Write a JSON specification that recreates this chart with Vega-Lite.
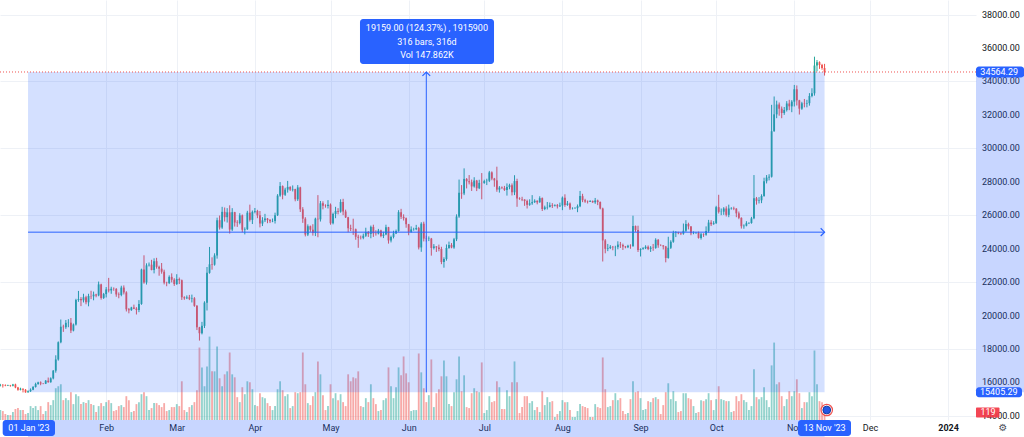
{
  "$schema": "https://vega.github.io/schema/vega-lite/v6.json",
  "description": "BTC daily candles with a TradingView style price range measurement",
  "width": 976,
  "height": 420,
  "autosize": {"type": "none"},
  "padding": {"left": 0, "top": 0, "right": 48, "bottom": 17},
  "background": "white",
  "config": {
    "view": {"stroke": null},
    "axis": {"domain": false, "ticks": false, "gridColor": "#eef1f6", "gridWidth": 1, "labelColor": "#131722", "labelFont": "Roboto", "labelFontSize": 9},
    "text": {"font": "Roboto"}
  },
  "datasets": {
    "candles": [
      {"d":"2022-12-21","o":15820,"h":15910,"l":15760,"c":15850,"v":130},
      {"d":"2022-12-22","o":15850,"h":15900,"l":15690,"c":15830,"v":117},
      {"d":"2022-12-23","o":15830,"h":15880,"l":15770,"c":15800,"v":78},
      {"d":"2022-12-24","o":15800,"h":15860,"l":15780,"c":15830,"v":65},
      {"d":"2022-12-25","o":15830,"h":15850,"l":15740,"c":15800,"v":65},
      {"d":"2022-12-26","o":15800,"h":15910,"l":15760,"c":15870,"v":104},
      {"d":"2022-12-27","o":15870,"h":15920,"l":15650,"c":15700,"v":143},
      {"d":"2022-12-28","o":15700,"h":15730,"l":15500,"c":15560,"v":156},
      {"d":"2022-12-29","o":15560,"h":15680,"l":15520,"c":15620,"v":130},
      {"d":"2022-12-30","o":15620,"h":15640,"l":15400,"c":15560,"v":130},
      {"d":"2022-12-31","o":15560,"h":15600,"l":15380,"c":15405.29,"v":78},
      {"d":"2023-01-01","o":15405.29,"h":15520,"l":15380,"c":15470,"v":91},
      {"d":"2023-01-02","o":15470,"h":15640,"l":15430,"c":15560,"v":182},
      {"d":"2023-01-03","o":15560,"h":15780,"l":15530,"c":15720,"v":156},
      {"d":"2023-01-04","o":15720,"h":15980,"l":15690,"c":15900,"v":182},
      {"d":"2023-01-05","o":15900,"h":16040,"l":15860,"c":16000,"v":130},
      {"d":"2023-01-06","o":16000,"h":16060,"l":15830,"c":15930,"v":182},
      {"d":"2023-01-07","o":15930,"h":15960,"l":15890,"c":15920,"v":78},
      {"d":"2023-01-08","o":15920,"h":16140,"l":15900,"c":16100,"v":117},
      {"d":"2023-01-09","o":16100,"h":16290,"l":15980,"c":16010,"v":234},
      {"d":"2023-01-10","o":16010,"h":16300,"l":15980,"c":16240,"v":195},
      {"d":"2023-01-11","o":16240,"h":16740,"l":16180,"c":16700,"v":260},
      {"d":"2023-01-12","o":16700,"h":17620,"l":16580,"c":17370,"v":416},
      {"d":"2023-01-13","o":17370,"h":18450,"l":17300,"c":18400,"v":442},
      {"d":"2023-01-14","o":18400,"h":19760,"l":18340,"c":19330,"v":468},
      {"d":"2023-01-15","o":19330,"h":19450,"l":19020,"c":19300,"v":260},
      {"d":"2023-01-16","o":19300,"h":19730,"l":19200,"c":19560,"v":286},
      {"d":"2023-01-17","o":19560,"h":19780,"l":19300,"c":19570,"v":260},
      {"d":"2023-01-18","o":19570,"h":19850,"l":18950,"c":19100,"v":364},
      {"d":"2023-01-19","o":19100,"h":19520,"l":19050,"c":19460,"v":208},
      {"d":"2023-01-20","o":19460,"h":21000,"l":19400,"c":20930,"v":338},
      {"d":"2023-01-21","o":20930,"h":21470,"l":20820,"c":20990,"v":312},
      {"d":"2023-01-22","o":20990,"h":21100,"l":20560,"c":20910,"v":208},
      {"d":"2023-01-23","o":20910,"h":21300,"l":20780,"c":21090,"v":234},
      {"d":"2023-01-24","o":21090,"h":21180,"l":20670,"c":20790,"v":221},
      {"d":"2023-01-25","o":20790,"h":21300,"l":20550,"c":21170,"v":260},
      {"d":"2023-01-26","o":21170,"h":21480,"l":20980,"c":21150,"v":208},
      {"d":"2023-01-27","o":21150,"h":21430,"l":20910,"c":21250,"v":195},
      {"d":"2023-01-28","o":21250,"h":21300,"l":21090,"c":21200,"v":104},
      {"d":"2023-01-29","o":21200,"h":22030,"l":21150,"c":21860,"v":182},
      {"d":"2023-01-30","o":21860,"h":21900,"l":20950,"c":21050,"v":221},
      {"d":"2023-01-31","o":21050,"h":21350,"l":20990,"c":21280,"v":182},
      {"d":"2023-02-01","o":21280,"h":21700,"l":21080,"c":21560,"v":234},
      {"d":"2023-02-02","o":21560,"h":22250,"l":21380,"c":21500,"v":260},
      {"d":"2023-02-03","o":21500,"h":21720,"l":21300,"c":21600,"v":221},
      {"d":"2023-02-04","o":21600,"h":21680,"l":21480,"c":21590,"v":117},
      {"d":"2023-02-05","o":21590,"h":21640,"l":21120,"c":21260,"v":130},
      {"d":"2023-02-06","o":21260,"h":21380,"l":21030,"c":21230,"v":182},
      {"d":"2023-02-07","o":21230,"h":21780,"l":21150,"c":21670,"v":195},
      {"d":"2023-02-08","o":21670,"h":21800,"l":21260,"c":21380,"v":169},
      {"d":"2023-02-09","o":21380,"h":21450,"l":20240,"c":20370,"v":312},
      {"d":"2023-02-10","o":20370,"h":20450,"l":20130,"c":20320,"v":260},
      {"d":"2023-02-11","o":20320,"h":20520,"l":20280,"c":20480,"v":104},
      {"d":"2023-02-12","o":20480,"h":20650,"l":20380,"c":20410,"v":117},
      {"d":"2023-02-13","o":20410,"h":20500,"l":20060,"c":20330,"v":208},
      {"d":"2023-02-14","o":20330,"h":20920,"l":20200,"c":20690,"v":234},
      {"d":"2023-02-15","o":20690,"h":22800,"l":20640,"c":22750,"v":338},
      {"d":"2023-02-16","o":22750,"h":23600,"l":21900,"c":21980,"v":364},
      {"d":"2023-02-17","o":21980,"h":23120,"l":21850,"c":23000,"v":312},
      {"d":"2023-02-18","o":23000,"h":23170,"l":22930,"c":23040,"v":130},
      {"d":"2023-02-19","o":23040,"h":23330,"l":22700,"c":22720,"v":156},
      {"d":"2023-02-20","o":22720,"h":23420,"l":22520,"c":23250,"v":221},
      {"d":"2023-02-21","o":23250,"h":23450,"l":22800,"c":22910,"v":221},
      {"d":"2023-02-22","o":22910,"h":22980,"l":22380,"c":22800,"v":195},
      {"d":"2023-02-23","o":22800,"h":23140,"l":22500,"c":22620,"v":169},
      {"d":"2023-02-24","o":22620,"h":22740,"l":21860,"c":21960,"v":221},
      {"d":"2023-02-25","o":21960,"h":22020,"l":21750,"c":21940,"v":117},
      {"d":"2023-02-26","o":21940,"h":22400,"l":21880,"c":22310,"v":130},
      {"d":"2023-02-27","o":22310,"h":22520,"l":21980,"c":22140,"v":169},
      {"d":"2023-02-28","o":22140,"h":22230,"l":21770,"c":21880,"v":169},
      {"d":"2023-03-01","o":21880,"h":22470,"l":21830,"c":22180,"v":208},
      {"d":"2023-03-02","o":22180,"h":22270,"l":21880,"c":22110,"v":182},
      {"d":"2023-03-03","o":22110,"h":22150,"l":20930,"c":21090,"v":507},
      {"d":"2023-03-04","o":21090,"h":21150,"l":20940,"c":21030,"v":130},
      {"d":"2023-03-05","o":21030,"h":21200,"l":20980,"c":21080,"v":104},
      {"d":"2023-03-06","o":21080,"h":21230,"l":20920,"c":21000,"v":169},
      {"d":"2023-03-07","o":21000,"h":21250,"l":20780,"c":21030,"v":195},
      {"d":"2023-03-08","o":21030,"h":21100,"l":20520,"c":20580,"v":234},
      {"d":"2023-03-09","o":20580,"h":20620,"l":19130,"c":19290,"v":390},
      {"d":"2023-03-10","o":19290,"h":19320,"l":18500,"c":18940,"v":949},
      {"d":"2023-03-11","o":18940,"h":19620,"l":18870,"c":19380,"v":689},
      {"d":"2023-03-12","o":19380,"h":20850,"l":19250,"c":20770,"v":442},
      {"d":"2023-03-13","o":20770,"h":22900,"l":20300,"c":22550,"v":702},
      {"d":"2023-03-14","o":22550,"h":24100,"l":22500,"c":23060,"v":1092},
      {"d":"2023-03-15","o":23060,"h":23480,"l":22740,"c":23040,"v":637},
      {"d":"2023-03-16","o":23040,"h":23720,"l":22980,"c":23590,"v":637},
      {"d":"2023-03-17","o":23590,"h":25850,"l":23400,"c":25700,"v":962},
      {"d":"2023-03-18","o":25700,"h":25980,"l":25140,"c":25260,"v":546},
      {"d":"2023-03-19","o":25260,"h":26500,"l":25180,"c":26200,"v":442},
      {"d":"2023-03-20","o":26200,"h":26460,"l":25620,"c":25880,"v":598},
      {"d":"2023-03-21","o":25880,"h":26420,"l":25560,"c":26170,"v":637},
      {"d":"2023-03-22","o":26170,"h":26590,"l":24900,"c":25140,"v":884},
      {"d":"2023-03-23","o":25140,"h":26420,"l":25050,"c":26180,"v":598},
      {"d":"2023-03-24","o":26180,"h":26200,"l":25320,"c":25560,"v":559},
      {"d":"2023-03-25","o":25560,"h":25700,"l":25300,"c":25530,"v":299},
      {"d":"2023-03-26","o":25530,"h":26120,"l":25450,"c":25990,"v":234},
      {"d":"2023-03-27","o":25990,"h":26040,"l":24980,"c":25130,"v":429},
      {"d":"2023-03-28","o":25130,"h":25270,"l":24850,"c":25160,"v":338},
      {"d":"2023-03-29","o":25160,"h":26260,"l":25120,"c":26150,"v":507},
      {"d":"2023-03-30","o":26150,"h":26630,"l":25620,"c":25720,"v":494},
      {"d":"2023-03-31","o":25720,"h":26280,"l":25470,"c":26200,"v":403},
      {"d":"2023-04-01","o":26200,"h":26430,"l":26110,"c":26250,"v":195},
      {"d":"2023-04-02","o":26250,"h":26320,"l":25820,"c":25990,"v":182},
      {"d":"2023-04-03","o":25990,"h":26250,"l":25270,"c":25500,"v":351},
      {"d":"2023-04-04","o":25500,"h":25880,"l":25350,"c":25690,"v":299},
      {"d":"2023-04-05","o":25690,"h":26080,"l":25590,"c":25800,"v":286},
      {"d":"2023-04-06","o":25800,"h":25830,"l":25520,"c":25710,"v":221},
      {"d":"2023-04-07","o":25710,"h":25770,"l":25530,"c":25630,"v":182},
      {"d":"2023-04-08","o":25630,"h":25800,"l":25580,"c":25650,"v":130},
      {"d":"2023-04-09","o":25650,"h":26150,"l":25500,"c":26000,"v":182},
      {"d":"2023-04-10","o":26000,"h":27260,"l":25950,"c":27170,"v":403},
      {"d":"2023-04-11","o":27170,"h":27980,"l":27100,"c":27740,"v":507},
      {"d":"2023-04-12","o":27740,"h":27780,"l":26950,"c":27220,"v":390},
      {"d":"2023-04-13","o":27220,"h":27640,"l":27150,"c":27530,"v":312},
      {"d":"2023-04-14","o":27530,"h":28050,"l":27350,"c":27690,"v":338},
      {"d":"2023-04-15","o":27690,"h":27730,"l":27450,"c":27530,"v":156},
      {"d":"2023-04-16","o":27530,"h":27780,"l":27420,"c":27560,"v":182},
      {"d":"2023-04-17","o":27560,"h":27580,"l":26830,"c":26950,"v":364},
      {"d":"2023-04-18","o":26950,"h":27800,"l":26850,"c":27660,"v":351},
      {"d":"2023-04-19","o":27660,"h":27700,"l":26190,"c":26350,"v":364},
      {"d":"2023-04-20","o":26350,"h":26480,"l":25540,"c":25790,"v":884},
      {"d":"2023-04-21","o":25790,"h":25880,"l":24730,"c":24840,"v":468},
      {"d":"2023-04-22","o":24840,"h":25450,"l":24750,"c":25340,"v":221},
      {"d":"2023-04-23","o":25340,"h":25380,"l":25000,"c":25130,"v":195},
      {"d":"2023-04-24","o":25130,"h":25460,"l":24780,"c":24940,"v":312},
      {"d":"2023-04-25","o":24940,"h":25850,"l":24750,"c":25790,"v":364},
      {"d":"2023-04-26","o":25790,"h":27200,"l":24680,"c":25750,"v":767},
      {"d":"2023-04-27","o":25750,"h":26850,"l":25620,"c":26710,"v":598},
      {"d":"2023-04-28","o":26710,"h":26830,"l":26350,"c":26570,"v":325},
      {"d":"2023-04-29","o":26570,"h":26650,"l":26450,"c":26550,"v":130},
      {"d":"2023-04-30","o":26550,"h":26900,"l":26400,"c":26630,"v":182},
      {"d":"2023-05-01","o":26630,"h":26700,"l":25430,"c":25520,"v":468},
      {"d":"2023-05-02","o":25520,"h":26150,"l":25450,"c":26070,"v":286},
      {"d":"2023-05-03","o":26070,"h":26500,"l":25820,"c":26250,"v":351},
      {"d":"2023-05-04","o":26250,"h":26420,"l":26050,"c":26210,"v":260},
      {"d":"2023-05-05","o":26210,"h":26950,"l":26150,"c":26790,"v":338},
      {"d":"2023-05-06","o":26790,"h":26980,"l":26000,"c":26220,"v":234},
      {"d":"2023-05-07","o":26220,"h":26330,"l":25830,"c":25870,"v":182},
      {"d":"2023-05-08","o":25870,"h":25900,"l":24980,"c":25220,"v":598},
      {"d":"2023-05-09","o":25220,"h":25430,"l":25050,"c":25170,"v":507},
      {"d":"2023-05-10","o":25170,"h":25790,"l":24820,"c":25160,"v":559},
      {"d":"2023-05-11","o":25160,"h":25200,"l":24530,"c":24710,"v":546},
      {"d":"2023-05-12","o":24710,"h":24830,"l":24050,"c":24650,"v":637},
      {"d":"2023-05-13","o":24650,"h":24780,"l":24550,"c":24640,"v":182},
      {"d":"2023-05-14","o":24640,"h":24900,"l":24560,"c":24770,"v":169},
      {"d":"2023-05-15","o":24770,"h":25250,"l":24700,"c":24990,"v":286},
      {"d":"2023-05-16","o":24990,"h":25050,"l":24700,"c":24880,"v":234},
      {"d":"2023-05-17","o":24880,"h":25380,"l":24620,"c":25300,"v":468},
      {"d":"2023-05-18","o":25300,"h":25430,"l":24700,"c":24910,"v":286},
      {"d":"2023-05-19","o":24910,"h":25100,"l":24780,"c":24900,"v":208},
      {"d":"2023-05-20","o":24900,"h":25180,"l":24850,"c":25080,"v":117},
      {"d":"2023-05-21","o":25080,"h":25130,"l":24680,"c":24760,"v":130},
      {"d":"2023-05-22","o":24760,"h":25010,"l":24630,"c":24840,"v":260},
      {"d":"2023-05-23","o":24840,"h":25430,"l":24800,"c":25280,"v":286},
      {"d":"2023-05-24","o":25280,"h":25300,"l":24300,"c":24490,"v":689},
      {"d":"2023-05-25","o":24490,"h":24780,"l":24370,"c":24700,"v":442},
      {"d":"2023-05-26","o":24700,"h":25070,"l":24610,"c":24910,"v":286},
      {"d":"2023-05-27","o":24910,"h":25140,"l":24870,"c":25050,"v":429},
      {"d":"2023-05-28","o":25050,"h":26300,"l":25010,"c":26180,"v":689},
      {"d":"2023-05-29","o":26180,"h":26380,"l":25770,"c":25900,"v":585},
      {"d":"2023-05-30","o":25900,"h":26050,"l":25680,"c":25820,"v":832},
      {"d":"2023-05-31","o":25820,"h":25860,"l":25250,"c":25460,"v":611},
      {"d":"2023-06-01","o":25460,"h":25480,"l":24800,"c":25000,"v":494},
      {"d":"2023-06-02","o":25000,"h":25330,"l":24950,"c":25150,"v":117},
      {"d":"2023-06-03","o":25150,"h":25250,"l":25070,"c":25160,"v":130},
      {"d":"2023-06-04","o":25160,"h":25420,"l":25100,"c":25230,"v":130},
      {"d":"2023-06-05","o":25230,"h":25300,"l":23950,"c":24070,"v":871},
      {"d":"2023-06-06","o":24070,"h":25580,"l":23810,"c":25490,"v":624},
      {"d":"2023-06-07","o":25490,"h":25610,"l":24430,"c":24600,"v":416},
      {"d":"2023-06-08","o":24600,"h":24770,"l":24420,"c":24580,"v":234},
      {"d":"2023-06-09","o":24580,"h":24730,"l":24450,"c":24600,"v":325},
      {"d":"2023-06-10","o":24600,"h":24640,"l":23580,"c":24040,"v":793},
      {"d":"2023-06-11","o":24040,"h":24270,"l":23950,"c":24130,"v":169},
      {"d":"2023-06-12","o":24130,"h":24150,"l":23800,"c":24070,"v":351},
      {"d":"2023-06-13","o":24070,"h":24240,"l":23840,"c":23980,"v":403},
      {"d":"2023-06-14","o":23980,"h":24110,"l":23070,"c":23200,"v":572},
      {"d":"2023-06-15","o":23200,"h":23480,"l":22860,"c":23380,"v":780},
      {"d":"2023-06-16","o":23380,"h":24250,"l":23280,"c":24040,"v":572},
      {"d":"2023-06-17","o":24040,"h":24420,"l":23990,"c":24220,"v":208},
      {"d":"2023-06-18","o":24220,"h":24330,"l":24020,"c":24070,"v":182},
      {"d":"2023-06-19","o":24070,"h":24640,"l":23990,"c":24560,"v":364},
      {"d":"2023-06-20","o":24560,"h":26050,"l":24450,"c":25920,"v":533},
      {"d":"2023-06-21","o":25920,"h":28130,"l":25840,"c":27340,"v":832},
      {"d":"2023-06-22","o":27340,"h":27800,"l":26980,"c":27300,"v":377},
      {"d":"2023-06-23","o":27300,"h":28800,"l":27200,"c":28170,"v":585},
      {"d":"2023-06-24","o":28170,"h":28220,"l":27600,"c":28030,"v":169},
      {"d":"2023-06-25","o":28030,"h":28400,"l":27840,"c":27970,"v":156},
      {"d":"2023-06-26","o":27970,"h":28130,"l":27450,"c":27720,"v":351},
      {"d":"2023-06-27","o":27720,"h":28270,"l":27650,"c":28070,"v":416},
      {"d":"2023-06-28","o":28070,"h":28110,"l":27440,"c":27610,"v":377},
      {"d":"2023-06-29","o":27610,"h":28120,"l":27560,"c":27930,"v":364},
      {"d":"2023-06-30","o":27930,"h":28520,"l":26950,"c":27920,"v":754},
      {"d":"2023-07-01","o":27920,"h":28120,"l":27880,"c":28040,"v":91},
      {"d":"2023-07-02","o":28040,"h":28180,"l":27800,"c":28060,"v":130},
      {"d":"2023-07-03","o":28060,"h":28650,"l":27980,"c":28560,"v":312},
      {"d":"2023-07-04","o":28560,"h":28620,"l":28090,"c":28190,"v":234},
      {"d":"2023-07-05","o":28190,"h":28230,"l":27700,"c":28080,"v":247},
      {"d":"2023-07-06","o":28080,"h":28900,"l":27400,"c":27530,"v":507},
      {"d":"2023-07-07","o":27530,"h":27740,"l":27350,"c":27650,"v":429},
      {"d":"2023-07-08","o":27650,"h":27720,"l":27560,"c":27620,"v":143},
      {"d":"2023-07-09","o":27620,"h":27750,"l":27450,"c":27510,"v":143},
      {"d":"2023-07-10","o":27510,"h":27900,"l":27170,"c":27680,"v":390},
      {"d":"2023-07-11","o":27680,"h":27880,"l":27550,"c":27790,"v":312},
      {"d":"2023-07-12","o":27790,"h":27900,"l":27180,"c":27370,"v":494},
      {"d":"2023-07-13","o":27370,"h":28390,"l":27200,"c":28040,"v":767},
      {"d":"2023-07-14","o":28040,"h":28180,"l":26500,"c":27000,"v":494},
      {"d":"2023-07-15","o":27000,"h":27070,"l":26920,"c":26970,"v":91},
      {"d":"2023-07-16","o":26970,"h":27100,"l":26840,"c":26940,"v":169},
      {"d":"2023-07-17","o":26940,"h":26950,"l":26560,"c":26850,"v":312},
      {"d":"2023-07-18","o":26850,"h":26930,"l":26400,"c":26620,"v":312},
      {"d":"2023-07-19","o":26620,"h":26950,"l":26560,"c":26710,"v":221},
      {"d":"2023-07-20","o":26710,"h":27200,"l":26620,"c":26780,"v":247},
      {"d":"2023-07-21","o":26780,"h":26950,"l":26730,"c":26860,"v":130},
      {"d":"2023-07-22","o":26860,"h":26890,"l":26650,"c":26770,"v":169},
      {"d":"2023-07-23","o":26770,"h":27130,"l":26740,"c":27020,"v":104},
      {"d":"2023-07-24","o":27020,"h":27060,"l":26250,"c":26370,"v":377},
      {"d":"2023-07-25","o":26370,"h":26570,"l":26300,"c":26470,"v":195},
      {"d":"2023-07-26","o":26470,"h":26790,"l":26340,"c":26490,"v":299},
      {"d":"2023-07-27","o":26490,"h":26760,"l":26460,"c":26600,"v":234},
      {"d":"2023-07-28","o":26600,"h":26720,"l":26430,"c":26560,"v":247},
      {"d":"2023-07-29","o":26560,"h":26650,"l":26520,"c":26600,"v":39},
      {"d":"2023-07-30","o":26600,"h":26670,"l":26400,"c":26530,"v":78},
      {"d":"2023-07-31","o":26530,"h":26750,"l":26490,"c":26580,"v":117},
      {"d":"2023-08-01","o":26580,"h":27120,"l":26300,"c":27050,"v":260},
      {"d":"2023-08-02","o":27050,"h":27250,"l":26500,"c":26610,"v":234},
      {"d":"2023-08-03","o":26610,"h":26850,"l":26560,"c":26700,"v":234},
      {"d":"2023-08-04","o":26700,"h":26760,"l":26310,"c":26400,"v":130},
      {"d":"2023-08-05","o":26400,"h":26470,"l":26340,"c":26410,"v":39},
      {"d":"2023-08-06","o":26410,"h":26480,"l":26370,"c":26420,"v":39},
      {"d":"2023-08-07","o":26420,"h":26640,"l":26180,"c":26540,"v":117},
      {"d":"2023-08-08","o":26540,"h":27450,"l":26480,"c":27140,"v":208},
      {"d":"2023-08-09","o":27140,"h":27280,"l":26780,"c":26900,"v":182},
      {"d":"2023-08-10","o":26900,"h":26980,"l":26740,"c":26820,"v":169},
      {"d":"2023-08-11","o":26820,"h":26880,"l":26700,"c":26800,"v":156},
      {"d":"2023-08-12","o":26800,"h":26900,"l":26790,"c":26850,"v":39},
      {"d":"2023-08-13","o":26850,"h":26880,"l":26740,"c":26770,"v":39},
      {"d":"2023-08-14","o":26770,"h":27030,"l":26680,"c":26880,"v":208},
      {"d":"2023-08-15","o":26880,"h":26930,"l":26600,"c":26790,"v":169},
      {"d":"2023-08-16","o":26790,"h":26820,"l":26350,"c":26400,"v":156},
      {"d":"2023-08-17","o":26400,"h":26450,"l":23230,"c":24490,"v":819},
      {"d":"2023-08-18","o":24490,"h":24570,"l":23720,"c":23990,"v":403},
      {"d":"2023-08-19","o":23990,"h":24280,"l":23850,"c":24030,"v":169},
      {"d":"2023-08-20","o":24030,"h":24210,"l":23970,"c":24110,"v":182},
      {"d":"2023-08-21","o":24110,"h":24160,"l":23900,"c":24080,"v":260},
      {"d":"2023-08-22","o":24080,"h":24170,"l":23550,"c":24090,"v":351},
      {"d":"2023-08-23","o":24090,"h":24440,"l":23960,"c":24240,"v":260},
      {"d":"2023-08-24","o":24240,"h":24400,"l":24040,"c":24210,"v":286},
      {"d":"2023-08-25","o":24210,"h":24300,"l":23920,"c":24130,"v":117},
      {"d":"2023-08-26","o":24130,"h":24160,"l":24020,"c":24080,"v":78},
      {"d":"2023-08-27","o":24080,"h":24230,"l":24030,"c":24170,"v":91},
      {"d":"2023-08-28","o":24170,"h":24260,"l":23990,"c":24160,"v":273},
      {"d":"2023-08-29","o":24160,"h":25970,"l":24100,"c":25350,"v":507},
      {"d":"2023-08-30","o":25350,"h":25380,"l":25000,"c":25110,"v":364},
      {"d":"2023-08-31","o":25110,"h":25370,"l":23800,"c":23920,"v":377},
      {"d":"2023-09-01","o":23920,"h":24020,"l":23530,"c":23970,"v":286},
      {"d":"2023-09-02","o":23970,"h":24090,"l":23930,"c":24020,"v":130},
      {"d":"2023-09-03","o":24020,"h":24200,"l":23970,"c":24110,"v":143},
      {"d":"2023-09-04","o":24110,"h":24190,"l":23910,"c":23980,"v":247},
      {"d":"2023-09-05","o":23980,"h":24150,"l":23800,"c":24060,"v":234},
      {"d":"2023-09-06","o":24060,"h":24280,"l":23870,"c":24040,"v":286},
      {"d":"2023-09-07","o":24040,"h":24620,"l":23990,"c":24530,"v":299},
      {"d":"2023-09-08","o":24530,"h":24570,"l":24050,"c":24200,"v":273},
      {"d":"2023-09-09","o":24200,"h":24260,"l":24150,"c":24190,"v":78},
      {"d":"2023-09-10","o":24190,"h":24210,"l":23950,"c":24130,"v":195},
      {"d":"2023-09-11","o":24130,"h":24160,"l":23180,"c":23440,"v":364},
      {"d":"2023-09-12","o":23440,"h":24710,"l":23400,"c":24050,"v":481},
      {"d":"2023-09-13","o":24050,"h":24500,"l":23980,"c":24410,"v":273},
      {"d":"2023-09-14","o":24410,"h":25070,"l":24350,"c":24930,"v":377},
      {"d":"2023-09-15","o":24930,"h":25050,"l":24690,"c":24960,"v":247},
      {"d":"2023-09-16","o":24960,"h":25010,"l":24860,"c":24920,"v":104},
      {"d":"2023-09-17","o":24920,"h":24970,"l":24810,"c":24890,"v":117},
      {"d":"2023-09-18","o":24890,"h":25500,"l":24830,"c":25070,"v":351},
      {"d":"2023-09-19","o":25070,"h":25700,"l":25000,"c":25470,"v":351},
      {"d":"2023-09-20","o":25470,"h":25550,"l":25150,"c":25330,"v":286},
      {"d":"2023-09-21","o":25330,"h":25350,"l":24800,"c":24920,"v":273},
      {"d":"2023-09-22","o":24920,"h":25030,"l":24860,"c":24930,"v":182},
      {"d":"2023-09-23","o":24930,"h":24990,"l":24880,"c":24940,"v":91},
      {"d":"2023-09-24","o":24940,"h":25020,"l":24600,"c":24640,"v":104},
      {"d":"2023-09-25","o":24640,"h":24940,"l":24540,"c":24860,"v":260},
      {"d":"2023-09-26","o":24860,"h":24920,"l":24700,"c":24830,"v":247},
      {"d":"2023-09-27","o":24830,"h":25330,"l":24770,"c":25060,"v":273},
      {"d":"2023-09-28","o":25060,"h":25720,"l":24960,"c":25560,"v":351},
      {"d":"2023-09-29","o":25560,"h":25700,"l":25350,"c":25460,"v":260},
      {"d":"2023-09-30","o":25460,"h":25640,"l":25430,"c":25520,"v":130},
      {"d":"2023-10-01","o":25520,"h":26560,"l":25480,"c":26480,"v":273},
      {"d":"2023-10-02","o":26480,"h":27220,"l":26100,"c":26200,"v":442},
      {"d":"2023-10-03","o":26200,"h":26400,"l":26000,"c":26210,"v":273},
      {"d":"2023-10-04","o":26210,"h":26480,"l":26020,"c":26400,"v":260},
      {"d":"2023-10-05","o":26400,"h":26530,"l":25920,"c":26020,"v":247},
      {"d":"2023-10-06","o":26020,"h":26630,"l":25880,"c":26400,"v":247},
      {"d":"2023-10-07","o":26400,"h":26480,"l":26330,"c":26420,"v":104},
      {"d":"2023-10-08","o":26420,"h":26510,"l":26300,"c":26390,"v":117},
      {"d":"2023-10-09","o":26390,"h":26420,"l":25880,"c":26110,"v":312},
      {"d":"2023-10-10","o":26110,"h":26220,"l":25760,"c":25840,"v":247},
      {"d":"2023-10-11","o":25840,"h":25870,"l":25200,"c":25340,"v":338},
      {"d":"2023-10-12","o":25340,"h":25450,"l":25190,"c":25370,"v":260},
      {"d":"2023-10-13","o":25370,"h":25640,"l":25330,"c":25520,"v":234},
      {"d":"2023-10-14","o":25520,"h":25580,"l":25470,"c":25530,"v":130},
      {"d":"2023-10-15","o":25530,"h":25900,"l":25490,"c":25810,"v":182},
      {"d":"2023-10-16","o":25810,"h":28400,"l":25760,"c":27010,"v":663},
      {"d":"2023-10-17","o":27010,"h":27090,"l":26630,"c":26860,"v":299},
      {"d":"2023-10-18","o":26860,"h":27080,"l":26700,"c":26890,"v":273},
      {"d":"2023-10-19","o":26890,"h":27250,"l":26720,"c":27150,"v":299},
      {"d":"2023-10-20","o":27150,"h":28240,"l":27100,"c":28030,"v":429},
      {"d":"2023-10-21","o":28030,"h":28400,"l":27900,"c":28250,"v":260},
      {"d":"2023-10-22","o":28250,"h":28450,"l":28080,"c":28300,"v":169},
      {"d":"2023-10-23","o":28300,"h":32600,"l":28250,"c":31020,"v":715},
      {"d":"2023-10-24","o":31020,"h":33100,"l":30990,"c":32030,"v":1014},
      {"d":"2023-10-25","o":32030,"h":32850,"l":31800,"c":32620,"v":468},
      {"d":"2023-10-26","o":32620,"h":32740,"l":31950,"c":32370,"v":494},
      {"d":"2023-10-27","o":32370,"h":32500,"l":31800,"c":32110,"v":312},
      {"d":"2023-10-28","o":32110,"h":32470,"l":32000,"c":32290,"v":182},
      {"d":"2023-10-29","o":32290,"h":32820,"l":32200,"c":32680,"v":273},
      {"d":"2023-10-30","o":32680,"h":32900,"l":32280,"c":32510,"v":377},
      {"d":"2023-10-31","o":32510,"h":32880,"l":32160,"c":32790,"v":312},
      {"d":"2023-11-01","o":32790,"h":33790,"l":32500,"c":33530,"v":377},
      {"d":"2023-11-02","o":33530,"h":33760,"l":32560,"c":32870,"v":533},
      {"d":"2023-11-03","o":32870,"h":32900,"l":32020,"c":32370,"v":351},
      {"d":"2023-11-04","o":32370,"h":32780,"l":32300,"c":32690,"v":156},
      {"d":"2023-11-05","o":32690,"h":32950,"l":32450,"c":32670,"v":234},
      {"d":"2023-11-06","o":32670,"h":32900,"l":32450,"c":32700,"v":234},
      {"d":"2023-11-07","o":32700,"h":33300,"l":32550,"c":33130,"v":364},
      {"d":"2023-11-08","o":33130,"h":33590,"l":33050,"c":33290,"v":312},
      {"d":"2023-11-09","o":33290,"h":35480,"l":33150,"c":34950,"v":910},
      {"d":"2023-11-10","o":34950,"h":35280,"l":34600,"c":35150,"v":468},
      {"d":"2023-11-11","o":35150,"h":35200,"l":34750,"c":34980,"v":247},
      {"d":"2023-11-12","o":34980,"h":35050,"l":34700,"c":34800,"v":234},
      {"d":"2023-11-13","o":34800,"h":35050,"l":34350,"c":34564.29,"v":119}
    ],
    "priceTicks": [
      {"p": 14000}, {"p": 16000}, {"p": 18000}, {"p": 20000}, {"p": 22000}, {"p": 24000}, {"p": 26000},
      {"p": 28000}, {"p": 30000}, {"p": 32000}, {"p": 34000}, {"p": 36000}, {"p": 38000}
    ]
  },
  "layer": [
    {
      "data": {"name": "candles"},
      "mark": {"type": "bar", "width": 1.8, "opacity": 0.5},
      "encoding": {
        "x": {
          "field": "d", "type": "temporal", "title": null,
          "scale": {"type": "utc", "nice": false, "padding": 0, "domain": [{"year": 2022, "month": 12, "date": 20, "hours": 21, "utc": true}, {"year": 2024, "month": 1, "date": 12, "hours": 2, "utc": true}]},
          "axis": {
            "grid": true,
            "values": [
              {"year": 2023, "month": 2, "date": 1, "utc": true},
              {"year": 2023, "month": 3, "date": 1, "utc": true},
              {"year": 2023, "month": 4, "date": 1, "utc": true},
              {"year": 2023, "month": 5, "date": 1, "utc": true},
              {"year": 2023, "month": 6, "date": 1, "utc": true},
              {"year": 2023, "month": 7, "date": 1, "utc": true},
              {"year": 2023, "month": 8, "date": 1, "utc": true},
              {"year": 2023, "month": 9, "date": 1, "utc": true},
              {"year": 2023, "month": 10, "date": 1, "utc": true},
              {"year": 2023, "month": 11, "date": 1, "utc": true},
              {"year": 2023, "month": 12, "date": 1, "utc": true},
              {"year": 2024, "month": 1, "date": 1, "utc": true}
            ],
            "labelExpr": "utcmonth(datum.value) == 0 ? utcFormat(datum.value, '%Y') : utcFormat(datum.value, '%b')",
            "labelFontWeight": {"condition": {"test": "utcmonth(datum.value) == 0", "value": "bold"}, "value": "normal"},
            "labelPadding": 3,
            "labelOverlap": false,
            "labelFlush": false,
            "labelBound": false
          }
        },
        "y": {"field": "v", "type": "quantitative", "title": null, "axis": null, "scale": {"domain": [0, 5500], "nice": false, "zero": true}},
        "color": {"condition": {"test": "datum.c >= datum.o", "value": "#26a69a"}, "value": "#ef5350"}
      }
    },
    {
      "layer": [
        {
          "data": {"name": "candles"},
          "mark": {"type": "rule", "strokeWidth": 1},
          "encoding": {
            "x": {"field": "d", "type": "temporal", "title": null, "scale": {"type": "utc", "nice": false, "padding": 0, "domain": [{"year": 2022, "month": 12, "date": 20, "hours": 21, "utc": true}, {"year": 2024, "month": 1, "date": 12, "hours": 2, "utc": true}]}},
            "y": {
              "field": "l", "type": "quantitative", "title": null,
              "scale": {"domain": [13750, 38870], "nice": false, "zero": false, "padding": 0},
              "axis": {"orient": "right", "grid": true, "labels": false, "values": [14000, 16000, 18000, 20000, 22000, 24000, 26000, 28000, 30000, 32000, 34000, 36000, 38000]}
            },
            "y2": {"field": "h"},
            "color": {"condition": {"test": "datum.c >= datum.o", "value": "#26a69a"}, "value": "#ef5350"}
          }
        },
        {
          "data": {"name": "candles"},
          "mark": {"type": "bar", "width": 1.8},
          "encoding": {
            "x": {"field": "d", "type": "temporal", "title": null},
            "y": {"field": "o", "type": "quantitative", "title": null},
            "y2": {"field": "c"},
            "color": {"condition": {"test": "datum.c >= datum.o", "value": "#26a69a"}, "value": "#ef5350"}
          }
        },
        {
          "data": {"name": "priceTicks"},
          "mark": {"type": "text", "align": "left", "baseline": "middle", "fontSize": 9, "color": "#131722"},
          "encoding": {
            "x": {"datum": {"year": 2024, "month": 1, "date": 14, "hours": 11, "utc": true}, "type": "temporal"},
            "y": {"field": "p", "type": "quantitative", "title": null},
            "text": {"field": "p", "type": "quantitative", "format": ".2f"}
          }
        },
        {
          "data": {"values": [{"x1": "2023-01-01", "x2": "2023-11-13", "p1": 15405.29, "p2": 34564.29}]},
          "mark": {"type": "rect", "fill": "#2962ff", "opacity": 0.2},
          "encoding": {
            "x": {"field": "x1", "type": "temporal", "title": null},
            "x2": {"field": "x2"},
            "y": {"field": "p1", "type": "quantitative", "title": null},
            "y2": {"field": "p2"}
          }
        },
        {
          "data": {"values": [{"x1": "2023-01-01", "x2": "2023-11-13", "p1": 12733, "p2": 13750}]},
          "mark": {"type": "rect", "fill": "#2962ff", "opacity": 0.26},
          "encoding": {
            "x": {"field": "x1", "type": "temporal", "title": null},
            "x2": {"field": "x2"},
            "y": {"field": "p1", "type": "quantitative", "title": null},
            "y2": {"field": "p2"}
          }
        },
        {
          "data": {"values": [{"x1": "2024-01-12T02:00:00Z", "x2": "2024-01-31T04:00:00Z", "p1": 15405.29, "p2": 34564.29}]},
          "mark": {"type": "rect", "fill": "#2962ff", "opacity": 0.26},
          "encoding": {
            "x": {"field": "x1", "type": "temporal", "title": null},
            "x2": {"field": "x2"},
            "y": {"field": "p1", "type": "quantitative", "title": null},
            "y2": {"field": "p2"}
          }
        },
        {
          "data": {"values": [{"p": 34564.29}]},
          "mark": {"type": "rule", "color": "#ef5350", "strokeWidth": 1, "strokeDash": [1, 2]},
          "encoding": {"y": {"field": "p", "type": "quantitative", "title": null}}
        },
        {
          "data": {"values": [{"x1": "2023-01-01", "x2": "2023-11-13", "p": 24984.79}]},
          "mark": {"type": "rule", "color": "#2962ff", "strokeWidth": 1},
          "encoding": {
            "x": {"field": "x1", "type": "temporal", "title": null},
            "x2": {"field": "x2"},
            "y": {"field": "p", "type": "quantitative", "title": null}
          }
        },
        {
          "data": {"values": [{"x": "2023-06-08", "p1": 15405.29, "p2": 34564.29}]},
          "mark": {"type": "rule", "color": "#2962ff", "strokeWidth": 1},
          "encoding": {
            "x": {"field": "x", "type": "temporal", "title": null},
            "y": {"field": "p1", "type": "quantitative", "title": null},
            "y2": {"field": "p2"}
          }
        },
        {
          "data": {"values": [{"x": "2023-11-13", "p": 24984.79}]},
          "mark": {"type": "point", "shape": "M-1,-1L0,0L-1,1", "size": 60, "filled": false, "stroke": "#2962ff", "strokeWidth": 1.2, "opacity": 1},
          "encoding": {
            "x": {"field": "x", "type": "temporal", "title": null},
            "y": {"field": "p", "type": "quantitative", "title": null}
          }
        },
        {
          "data": {"values": [{"x": "2023-06-08", "p": 34564.29}]},
          "mark": {"type": "point", "shape": "M-1,1L0,0L1,1", "size": 60, "filled": false, "stroke": "#2962ff", "strokeWidth": 1.2, "opacity": 1},
          "encoding": {
            "x": {"field": "x", "type": "temporal", "title": null},
            "y": {"field": "p", "type": "quantitative", "title": null}
          }
        },
        {
          "data": {"values": [
            {"x1": "2023-05-12T16:40:00Z", "x2": "2023-07-04T20:45:00Z", "p1": 35042, "p2": 37734},
            {"x1": "2024-01-12T02:00:00Z", "x2": "2024-01-31T04:00:00Z", "p1": 34235, "p2": 34893},
            {"x1": "2024-01-12T02:00:00Z", "x2": "2024-01-30T08:00:00Z", "p1": 15106, "p2": 15704},
            {"x1": "2022-12-21T22:40:00Z", "x2": "2023-01-11T16:40:00Z", "p1": 12793, "p2": 13750},
            {"x1": "2023-11-02T11:10:00Z", "x2": "2023-11-23T11:50:00Z", "p1": 12793, "p2": 13750}
          ]},
          "mark": {"type": "rect", "fill": "#2962ff", "cornerRadius": 3},
          "encoding": {
            "x": {"field": "x1", "type": "temporal", "title": null},
            "x2": {"field": "x2"},
            "y": {"field": "p1", "type": "quantitative", "title": null},
            "y2": {"field": "p2"}
          }
        },
        {
          "data": {"values": [{"x1": "2024-01-12T02:00:00Z", "x2": "2024-01-21T09:40:00Z", "p1": 13900, "p2": 14498}]},
          "mark": {"type": "rect", "fill": "#f23645", "cornerRadius": 1, "opacity": 0.92},
          "encoding": {
            "x": {"field": "x1", "type": "temporal", "title": null},
            "x2": {"field": "x2"},
            "y": {"field": "p1", "type": "quantitative", "title": null},
            "y2": {"field": "p2"}
          }
        },
        {
          "data": {"values": [
            {"x": "2023-06-08T06:00:00Z", "p": 37225, "t": "19159.00 (124.37%) , 1915900"},
            {"x": "2023-06-08T06:00:00Z", "p": 36358, "t": "316 bars, 316d"},
            {"x": "2023-06-08T06:00:00Z", "p": 35551, "t": "Vol 147.862K"},
            {"x": "2024-01-21T07:00:00Z", "p": 34564.29, "t": "34564.29"},
            {"x": "2024-01-21T03:00:00Z", "p": 15405.29, "t": "15405.29"},
            {"x": "2024-01-16T20:00:00Z", "p": 14199, "t": "119"},
            {"x": "2023-01-01T08:00:00Z", "p": 13271, "t": "01 Jan '23"},
            {"x": "2023-11-13", "p": 13271, "t": "13 Nov '23"}
          ]},
          "mark": {"type": "text", "color": "white", "fontSize": 9, "align": "center", "baseline": "middle"},
          "encoding": {
            "x": {"field": "x", "type": "temporal", "title": null},
            "y": {"field": "p", "type": "quantitative", "title": null},
            "text": {"field": "t", "type": "nominal"}
          }
        },
        {
          "data": {"values": [{"x": "2023-11-13T21:00:00Z", "p": 14348}]},
          "mark": {"type": "point", "shape": "circle", "size": 130, "filled": true, "fill": "white", "stroke": "#ef5350", "strokeWidth": 1.2, "opacity": 1},
          "encoding": {
            "x": {"field": "x", "type": "temporal", "title": null},
            "y": {"field": "p", "type": "quantitative", "title": null}
          }
        },
        {
          "data": {"values": [{"x": "2023-11-13T21:00:00Z", "p": 14348}]},
          "mark": {"type": "point", "shape": "circle", "size": 60, "filled": true, "fill": "#2457e6", "stroke": "#123a9e", "strokeWidth": 1, "opacity": 1},
          "encoding": {
            "x": {"field": "x", "type": "temporal", "title": null},
            "y": {"field": "p", "type": "quantitative", "title": null}
          }
        },
        {
          "data": {"values": [{"x": "2024-01-22T19:00:00Z", "p": 13271, "t": "⚙"}]},
          "mark": {"type": "text", "font": "DejaVu Sans", "fontSize": 10, "color": "#50535e", "align": "center", "baseline": "middle"},
          "encoding": {
            "x": {"field": "x", "type": "temporal", "title": null},
            "y": {"field": "p", "type": "quantitative", "title": null},
            "text": {"field": "t", "type": "nominal"}
          }
        }
      ]
    }
  ],
  "resolve": {"scale": {"y": "independent"}}
}
